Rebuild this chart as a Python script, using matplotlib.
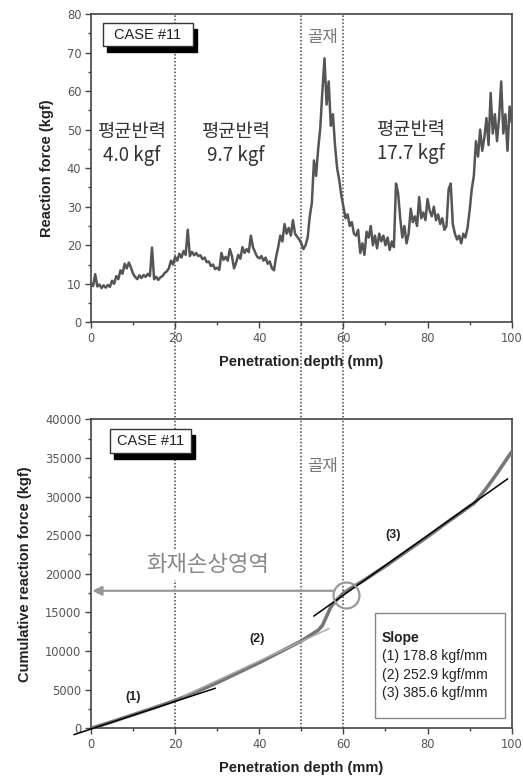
import numpy as np
from matplotlib import pyplot as plt
from matplotlib.patches import Rectangle
from matplotlib.ticker import MultipleLocator

# ---------------------------------------------------------------
# data
# top: reaction force, one value every 0.5 mm
depth = np.arange(0, 100.01, 0.5)
force = [
    10.2, 9.4, 12.5, 9.3, 9.8, 8.9, 9.6, 9.0, 9.7, 9.2,
    10.8, 10.0, 12.0, 11.2, 13.5, 12.6, 15.2, 14.0, 15.5, 14.2,
    12.6, 11.8, 11.2, 12.2, 11.5, 12.3, 11.8, 12.6, 12.0, 19.4,
    11.2, 11.8, 11.0, 11.7, 12.0, 12.8, 13.2, 14.0, 16.0, 15.0,
    17.0, 16.0, 17.8, 16.8, 18.5, 17.5, 24.0, 17.2, 18.3, 17.4,
    18.0, 17.2, 17.4, 16.4, 16.8, 15.6, 15.8, 14.6, 15.0, 13.8,
    14.2, 13.6, 18.0, 16.2, 17.0, 16.0, 19.0, 17.2, 14.0, 15.5,
    17.5, 16.5, 19.5, 18.0, 19.0, 18.2, 22.5, 19.5, 18.2, 17.0,
    16.6, 17.2, 16.0, 16.8, 15.2, 15.8, 14.0, 13.5, 17.0, 19.5,
    22.5, 21.0, 25.5, 23.0, 24.5, 22.5, 26.5, 23.0, 22.2, 21.5,
    20.5, 19.0, 20.0, 22.0, 27.5, 31.0, 42.0, 38.0, 45.0, 50.5,
    60.0, 68.5, 56.5, 62.5, 51.0, 54.0, 46.0, 40.0, 37.0, 33.0,
    30.0, 27.0, 28.0, 25.0, 26.0, 23.0, 22.5, 24.0, 18.0, 20.5,
    17.5, 23.5, 22.0, 25.0, 20.0, 22.5, 19.2, 23.0, 21.0, 22.5,
    20.0, 22.0, 18.8, 21.0, 19.5, 36.0, 33.5, 27.0, 22.0, 25.0,
    20.5, 23.0, 29.5, 26.0, 27.5, 25.0, 32.5, 27.0, 28.5, 26.5,
    32.0, 29.0, 27.5, 30.0, 26.5, 28.0, 25.5, 27.0, 24.0, 25.0,
    34.5, 36.0, 25.5, 23.0, 21.5, 22.5, 20.5, 23.0, 22.0, 24.5,
    29.0, 34.5, 38.0, 47.0, 43.0, 50.0, 44.5, 48.0, 53.0, 46.0,
    59.5, 49.0, 54.0, 47.0, 53.0, 62.5, 49.0, 54.0, 44.5, 56.0,
    52.0,
]

# bottom: cumulative reaction force
cum_x = [0, 5, 10, 15, 20, 25, 30, 35, 40, 45, 50, 52, 54, 55, 56, 57, 58,
         60, 62, 65, 70, 75, 80, 85, 88, 90, 91, 92, 94, 96, 98, 100]
cum_y = [0, 850, 1750, 2650, 3600, 4700, 5900, 7200, 8500, 9900, 11300, 12000,
         12700, 13300, 14500, 15700, 16400, 17500, 18200, 19200, 21000, 22900,
         24800, 26800, 27950, 28750, 29100, 29700, 31100, 32600, 34200, 35800]

# linear fits: slope, intercept, x range
fit_slope = [178.8, 252.9, 385.6]
fit_icpt = [-100, -1400, -5900]
fit_from = [-4, 22, 53]
fit_to = [29.5, 56.5, 99]
fit_color = ['black', '#a8a8a8', 'black']

bounds = [20, 50, 60]
mean_text = ['평균반력\n4.0 kgf', '평균반력\n9.7 kgf', '평균반력\n17.7 kgf']
mean_x = [9.7, 34.4, 76.0]
mean_y = [46.4, 46.4, 47.0]

slope_lines = ['(1) 178.8 kgf/mm', '(2) 252.9 kgf/mm', '(3) 385.6 kgf/mm']

# ---------------------------------------------------------------
KR = ['Noto Sans CJK KR', 'DejaVu Sans']
AX = '#444444'
DOT = (0, (1, 1.3))


def style_axes(ax):
    for s in ax.spines.values():
        s.set_color(AX)
        s.set_linewidth(1.2)
    ax.tick_params(which='both', direction='out', color=AX, width=1,
                   labelsize=8.3, labelcolor='#555555', top=False, right=False)
    ax.tick_params(which='major', length=4, pad=3)
    ax.tick_params(which='minor', length=2.5)
    ax.set_xlim(0, 100)
    ax.xaxis.set_major_locator(MultipleLocator(20))
    ax.xaxis.set_minor_locator(MultipleLocator(10))
    ax.set_xlabel('Penetration depth (mm)', fontsize=10.5, fontweight='bold',
                  family='Liberation Sans', color='#222222', labelpad=7)


def case_box(ax, x0, y0, w, h, dx, dy):
    ax.add_patch(Rectangle((x0 + dx, y0 - dy), w, h, transform=ax.transAxes,
                           fc='black', ec='black', zorder=5, clip_on=False))
    ax.add_patch(Rectangle((x0, y0), w, h, transform=ax.transAxes,
                           fc='white', ec='#333333', lw=1, zorder=6, clip_on=False))
    ax.text(x0 + w / 2, y0 + h / 2, 'CASE #11', transform=ax.transAxes,
            ha='center', va='center', fontsize=10.5, family='Liberation Sans',
            color='#222222', zorder=7)


fig = plt.figure(figsize=(5.23, 7.82), dpi=100)
ax1 = fig.add_axes([0.174, 0.5878, 0.8044, 0.3943])
ax2 = fig.add_axes([0.174, 0.0687, 0.8044, 0.3951])

# ---- top chart
style_axes(ax1)
ax1.plot(depth, force, color='#555555', lw=1.8, zorder=3)
ax1.set_ylim(0, 80)
ax1.yaxis.set_major_locator(MultipleLocator(10))
ax1.yaxis.set_minor_locator(MultipleLocator(5))
ax1.set_ylabel('Reaction force (kgf)', fontsize=10.5, fontweight='bold',
               family='Liberation Sans', color='#222222', labelpad=9)
for b in bounds:
    ax1.axvline(b, ymin=-0.32, ymax=1, color=AX, lw=1.1, ls=DOT,
                clip_on=False, zorder=2)
for t, x, y in zip(mean_text, mean_x, mean_y):
    ax1.text(x, y, t, ha='center', va='center', fontsize=13.5, family=KR,
             color='#333333', linespacing=1.2, zorder=4)
ax1.text(55, 73.8, '골재', ha='center', va='center', fontsize=12, family=KR,
         color='#777777')
case_box(ax1, 0.0285, 0.896, 0.214, 0.075, 0.0095, 0.019)

# ---- bottom chart
style_axes(ax2)
ax2.set_ylim(0, 40000)
ax2.yaxis.set_major_locator(MultipleLocator(5000))
ax2.yaxis.set_minor_locator(MultipleLocator(2500))
ax2.set_ylabel('Cumulative reaction force (kgf)', fontsize=10.5, fontweight='bold',
               family='Liberation Sans', color='#222222', labelpad=9)
for b in bounds:
    ax2.axvline(b, color=AX, lw=1.1, ls=DOT, zorder=2)

ax2.plot(cum_x, cum_y, color='#777777', lw=2.6, zorder=3, solid_capstyle='round')
for k, c, x0, x1, col in zip(fit_slope, fit_icpt, fit_from, fit_to, fit_color):
    xs = np.array([x0, x1])
    ax2.plot(xs, k * xs + c, color=col, lw=1.1, zorder=4, clip_on=False)

ax2.text(9.9, 4100, '(1)', ha='center', va='center', fontsize=9,
         fontweight='bold', family='Liberation Sans', color='#222222')
ax2.text(39.4, 11560, '(2)', ha='center', va='center', fontsize=9,
         fontweight='bold', family='Liberation Sans', color='#222222')
ax2.text(71.9, 25020, '(3)', ha='center', va='center', fontsize=9,
         fontweight='bold', family='Liberation Sans', color='#222222')

ax2.text(27.6, 21140, '화재손상영역', ha='center', va='center', fontsize=16,
         family=KR, color='#888888', zorder=6,
         bbox=dict(boxstyle='square,pad=0.15', fc='white', ec='none'))
ax2.text(55, 33830, '골재', ha='center', va='center', fontsize=12, family=KR,
         color='#777777')

ax2.annotate('', xy=(0.3, 17800), xytext=(57.6, 17800),
             arrowprops=dict(arrowstyle='-|>', color='#999999', lw=1.6,
                             mutation_scale=14, shrinkA=0, shrinkB=0), zorder=5)
ax2.plot([60.5], [17300], marker='o', ms=18.7, mfc='none', mec='#999999',
         mew=1.6, zorder=6)

# slope legend box
ax2.add_patch(Rectangle((0.675, 0.034), 0.309, 0.34, transform=ax2.transAxes,
                        fc='white', ec='#888888', lw=1, zorder=6))
ax2.text(0.691, 0.293, 'Slope', transform=ax2.transAxes, ha='left', va='center',
         fontsize=10, fontweight='bold', family='Liberation Sans',
         color='#222222', zorder=7)
for i, s in enumerate(slope_lines):
    ax2.text(0.691, 0.234 - i * 0.06, s, transform=ax2.transAxes, ha='left',
             va='center', fontsize=10, family='Liberation Sans',
             color='#222222', zorder=7)

case_box(ax2, 0.045, 0.891, 0.193, 0.078, 0.0095, 0.019)

fig.savefig('out.png', dpi=100)
